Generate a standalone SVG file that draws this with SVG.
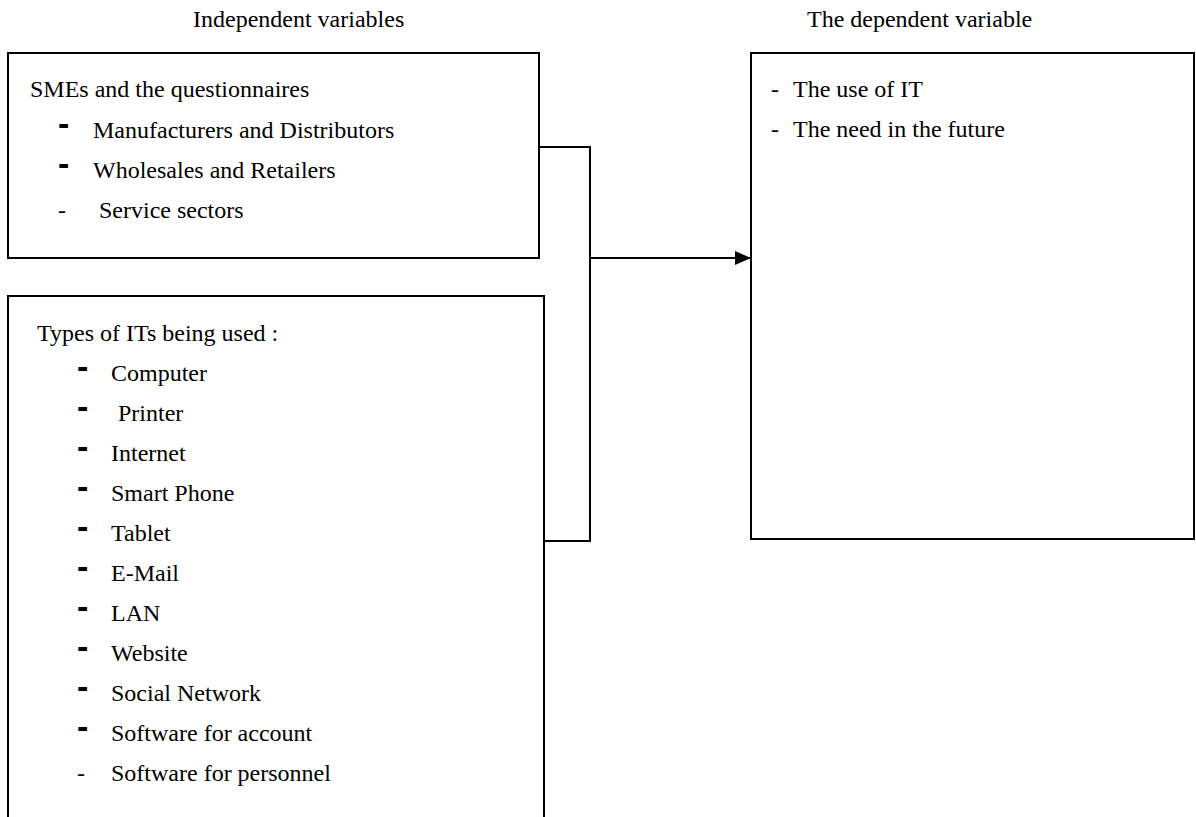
<svg xmlns="http://www.w3.org/2000/svg" width="1196" height="817" viewBox="0 0 1196 817">
<style>
.box{fill:#fff;stroke:#000;stroke-width:2}
.t{font-family:"Liberation Serif","Times New Roman",serif;font-size:24px;fill:#000}
.bd{font-family:"Liberation Sans",Arial,sans-serif;font-size:34px;font-weight:bold;fill:#000}
.conn{fill:none;stroke:#000;stroke-width:2}
</style>
<defs>
<marker id="arr" markerWidth="16" markerHeight="14" refX="16" refY="7" orient="auto" markerUnits="userSpaceOnUse">
<path d="M0,0 L16,7 L0,14 Z" fill="#000"/>
</marker>
</defs>
<rect width="1196" height="817" fill="#fff"/>
<text class="t" x="193" y="27">Independent variables</text>
<text class="t" x="807" y="27">The dependent variable</text>
<g id="connectors">
<path class="conn" d="M539,147 H590 V541 H544"/>
<path class="conn" d="M590,258 H751" marker-end="url(#arr)"/>
</g>
<g id="smes">
<rect class="box" x="8" y="53" width="531" height="205"/>
<text class="t" x="30" y="97">SMEs and the questionnaires</text>
<text class="bd" x="58" y="135">-</text>
<text class="t" x="93" y="137.5">Manufacturers and Distributors</text>
<text class="bd" x="58" y="175">-</text>
<text class="t" x="93" y="177.5">Wholesales and  Retailers</text>
<text class="t" x="58" y="217.5">-</text>
<text class="t" x="99" y="217.5">Service sectors</text>
</g>
<g id="types">
<rect class="box" x="8" y="296" width="536" height="560"/>
<text class="t" x="37" y="341">Types of ITs being used :</text>
<g class="bd">
<text x="77" y="378">-</text>
<text x="77" y="418">-</text>
<text x="77" y="458">-</text>
<text x="77" y="498">-</text>
<text x="77" y="538">-</text>
<text x="77" y="578">-</text>
<text x="77" y="618">-</text>
<text x="77" y="658">-</text>
<text x="77" y="698">-</text>
<text x="77" y="738">-</text>
</g>
<text class="t" x="111" y="381">Computer</text>
<text class="t" x="118" y="421">Printer</text>
<text class="t" x="111" y="461">Internet</text>
<text class="t" x="111" y="501">Smart Phone</text>
<text class="t" x="111" y="541">Tablet</text>
<text class="t" x="111" y="581">E-Mail</text>
<text class="t" x="111" y="621">LAN</text>
<text class="t" x="111" y="661">Website</text>
<text class="t" x="111" y="701">Social Network</text>
<text class="t" x="111" y="741">Software for account</text>
<text class="t" x="77" y="781">-</text>
<text class="t" x="111" y="781">Software for personnel</text>
</g>
<g id="dependent">
<rect class="box" x="751" y="53" width="443" height="486"/>
<text class="t" x="771" y="97">-</text>
<text class="t" x="793" y="97">The use of IT</text>
<text class="t" x="771" y="137">-</text>
<text class="t" x="793" y="137">The need in the future</text>
</g>
</svg>
